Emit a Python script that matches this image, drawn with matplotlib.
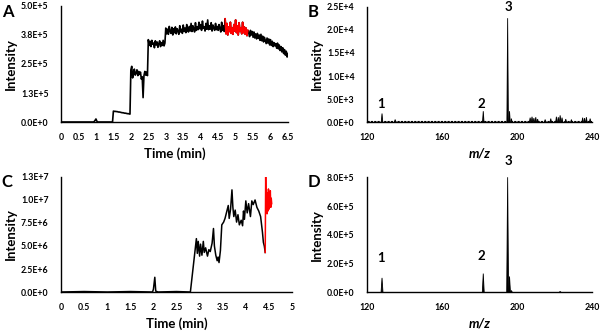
import numpy as np
import matplotlib
matplotlib.use("Agg")
import matplotlib.pyplot as plt

plt.rcParams['font.family'] = ['Lato', 'DejaVu Sans']
plt.rcParams['font.weight'] = 'bold'

# ---- panel A : intensity vs time (x1e4), one value every 0.025 min, rows of 0.25 min
a_int = [
    0, 0, 0, 0, 0, 0, 0, 0, 0, 0,
    0, 0, 0, 0, 0, 0, 0, 0, 0, 0,
    0, 0, 0, 0, 0, 0, 0, 0, 0, 0,
    0, 0, 0, 0, 0, 0, 0, 0, 0.2, 0.7,
    1.3, 0.4, 0, 0, 0, 0, 0, 0, 0, 0,
    0, 0, 0, 0, 0, 0, 0, 0, 0, 0,
    4.7, 4.6, 4.6, 4.5, 4.5, 4.4, 4.3, 4.3, 4.2, 4.1,
    4.0, 4.0, 3.9, 3.8, 3.8, 3.7, 3.6, 3.6, 3.5, 3.4,
    22.5, 24.0, 19.0, 21.5, 22.8, 20.2, 21.0, 22.5, 20.0, 21.8,
    20.5, 21.5, 18.5, 19.5, 10.5, 20.0, 21.8, 20.2, 21.5, 20.0,
    35.5, 33.0, 34.8, 32.5, 35.2, 33.5, 34.0, 32.0, 35.0, 33.2,
    34.5, 32.2, 33.8, 35.0, 32.5, 34.2, 33.0, 35.2, 32.8, 34.0,
    40.5, 38.0, 40.0, 37.8, 41.2, 39.0, 38.2, 40.8, 37.5, 40.2,
    38.5, 41.0, 38.0, 40.2, 39.2, 37.8, 41.5, 38.8, 40.0, 38.2,
    41.8, 39.0, 40.5, 38.5, 42.0, 39.5, 38.8, 41.2, 39.2, 42.5,
    39.0, 41.5, 40.0, 38.8, 42.8, 39.5, 41.0, 39.8, 43.0, 40.2,
    42.0, 39.5, 43.5, 40.5, 41.0, 39.2, 42.5, 40.0, 44.0, 39.8,
    41.5, 40.0, 42.8, 39.2, 41.8, 40.5, 39.5, 42.5, 39.8, 41.2,
    39.5, 42.0, 40.2, 38.8, 43.0, 39.5, 41.5, 39.0, 44.5, 38.0,
    42.5, 37.5, 41.0, 39.0, 43.0, 38.2, 40.5, 37.8, 42.0, 39.2,
    44.0, 38.5, 41.5, 37.5, 42.8, 39.0, 40.5, 38.0, 43.0, 38.5,
    41.0, 37.8, 40.5, 37.2, 39.5, 38.5, 36.8, 39.5, 37.5, 39.0,
    36.5, 38.8, 36.2, 38.0, 35.8, 38.2, 36.0, 37.5, 35.2, 37.8,
    35.0, 37.0, 34.5, 36.5, 35.2, 33.8, 36.2, 34.0, 35.8, 33.2,
    35.5, 33.0, 34.8, 32.5, 34.2, 32.8, 33.8, 31.8, 34.0, 31.5,
    33.2, 30.8, 32.5, 30.2, 32.0, 29.5, 31.2, 28.8, 30.5, 28.0,
    29.5]
a_time = np.round(np.arange(len(a_int)) * 0.025, 3)
a_red = (4.7, 5.35)

# ---- panel C : intensity vs time (x1e6)
c_time = [0, 0.5, 1.0, 1.5, 1.98, 2.0, 2.03, 2.05, 2.1, 2.5, 2.8,
          2.93, 2.95, 2.97, 3.0, 3.02, 3.05, 3.08, 3.1, 3.13, 3.17, 3.2, 3.23,
          3.27, 3.3, 3.32, 3.35, 3.38, 3.4, 3.42, 3.45, 3.48, 3.52, 3.55, 3.58,
          3.62, 3.64, 3.67, 3.7, 3.72, 3.74, 3.77, 3.8, 3.83, 3.86, 3.9, 3.93,
          3.95, 3.97, 4.0, 4.03, 4.06, 4.1, 4.13, 4.16, 4.2, 4.24, 4.28, 4.32,
          4.36, 4.38, 4.4, 4.42]
c_int = [0, 0.05, 0, 0.05, 0, 0.3, 1.6, 0.1, 0, 0.05, 0,
         5.8, 4.2, 5.5, 3.9, 5.2, 4.0, 5.5, 4.3, 4.8, 3.9, 4.6, 4.4,
         5.3, 6.9, 5.0, 4.0, 3.4, 3.8, 3.2, 4.5, 7.3, 7.6, 8.0, 8.6,
         9.4, 8.0, 9.0, 11.1, 9.2, 8.2, 8.9, 7.6, 8.4, 7.3, 7.8, 7.2,
         8.8, 7.9, 9.9, 8.6, 9.6, 8.2, 9.9, 9.5, 10.0, 9.2, 8.8, 8.2,
         6.5, 5.4, 5.0, 4.3]
c_red_time = [4.42, 4.43, 4.44, 4.45, 4.46, 4.47, 4.48, 4.49, 4.5, 4.51,
              4.52, 4.53, 4.54, 4.55, 4.56]
c_red_int = [4.3, 12.6, 8.8, 10.5, 8.5, 10.8, 8.8, 11.2, 9.0, 10.4,
             9.2, 11.0, 9.2, 10.2, 9.6]

# ---- panel B : mass spectrum (x1e3)
b_mz = [128, 135, 182, 195, 196, 197, 207, 208, 209, 210, 211, 215, 218,
        221, 222, 223, 224, 226, 229, 235, 236, 237, 239]
b_int = [1.9, 0.6, 2.4, 22.5, 2.4, 0.8, 1.0, 1.2, 0.9, 1.1, 0.7, 0.6, 0.8,
         1.2, 1.1, 1.5, 1.0, 0.7, 0.6, 1.0, 0.9, 1.1, 0.8]
b_floor = 0.35
b_labels = [('1', 127.3, 4.0), ('2', 181.2, 4.0), ('3', 195.2, 24.9)]

# ---- panel D : mass spectrum (x1e5)
d_mz = [128, 182, 195, 196, 197, 223]
d_int = [1.0, 1.3, 8.0, 1.1, 0.12, 0.04]
d_labels = [('1', 127.3, 1.95), ('2', 181.2, 2.1), ('3', 195.2, 8.7)]

TICK = 6.3
LAB = 9.5


def style(ax, xlim, ylim, yticks, ylabels, xticks, xlabels, xlab, italic=False):
    for s in ['top', 'right']:
        ax.spines[s].set_visible(False)
    for s in ['left', 'bottom']:
        ax.spines[s].set_linewidth(1.0)
    ax.set_xlim(*xlim)
    ax.set_ylim(*ylim)
    ax.set_yticks(yticks)
    ax.set_yticklabels(ylabels, fontsize=TICK, fontweight='bold')
    ax.set_xticks(xticks)
    ax.set_xticklabels(xlabels, fontsize=TICK, fontweight='bold')
    ax.tick_params(length=0, axis='y', pad=9)
    ax.tick_params(length=0, axis='x', pad=8)
    ax.set_ylabel('Intensity', fontsize=LAB, fontweight='bold', labelpad=3)
    ax.set_xlabel(xlab, fontsize=LAB, fontweight='bold',
                  fontstyle='italic' if italic else 'normal', labelpad=4)


def spectrum(ax, mz, inten, w):
    for m, h in zip(mz, inten):
        ax.fill([m - w, m, m + w], [0, h, 0], color='black', lw=0.6,
                edgecolor='black', clip_on=False)


fig = plt.figure(figsize=(6.0, 3.31), dpi=100)
axA = fig.add_axes([0.1017, 0.6314, 0.3783, 0.3505])
axB = fig.add_axes([0.6117, 0.6305, 0.375, 0.3495])
axC = fig.add_axes([0.1017, 0.1178, 0.385, 0.3475])
axD = fig.add_axes([0.6117, 0.1170, 0.375, 0.3475])

# A
a_t = np.array(a_time)
a_v = np.array(a_int) * 1e4
axA.plot(a_t, a_v, color='black', lw=1.2)
m = (a_t >= a_red[0] - 1e-9) & (a_t <= a_red[1] + 1e-9)
axA.plot(a_t[m], a_v[m], color='#ff0000', lw=1.2)
style(axA, (0, 6.5), (0, 5e5), np.arange(5) * 1.25e5,
      ['0.0E+0', '1.3E+5', '2.5E+5', '3.8E+5', '5.0E+5'],
      np.arange(14) * 0.5, ['0', '0.5', '1', '1.5', '2', '2.5', '3', '3.5',
                            '4', '4.5', '5', '5.5', '6', '6.5'], 'Time (min)')

# C
axC.plot(c_time, np.array(c_int) * 1e6, color='black', lw=1.1)
axC.plot(c_red_time, np.array(c_red_int) * 1e6, color='#ff0000', lw=1.1)
style(axC, (0, 5), (0, 1.25e7), np.arange(6) * 2.5e6,
      ['0.0E+0', '2.5E+6', '5.0E+6', '7.5E+6', '1.0E+7', '1.3E+7'],
      np.arange(11) * 0.5, ['0', '0.5', '1', '1.5', '2', '2.5', '3', '3.5',
                            '4', '4.5', '5'], 'Time (min)')

# B
axB.plot([120, 240], [b_floor * 1e3] * 2, color='black', lw=0.8,
         ls=(0, (2, 1)))
spectrum(axB, b_mz, np.array(b_int) * 1e3, 0.4)
style(axB, (120, 240), (0, 2.5e4), np.arange(6) * 5e3,
      ['0.0E+0', '5.0E+3', '1.0E+4', '1.5E+4', '2.0E+4', '2.5E+4'],
      [120, 160, 200, 240], ['120', '160', '200', '240'], 'm/z', italic=True)
for t, x, y in b_labels:
    axB.text(x, y * 1e3, t, ha='center', va='center', fontsize=LAB,
             fontweight='bold', clip_on=False)

# D
spectrum(axD, d_mz, np.array(d_int) * 1e5, 0.5)
style(axD, (120, 240), (0, 8e5), np.arange(5) * 2e5,
      ['0.0E+0', '2.0E+5', '4.0E+5', '6.0E+5', '8.0E+5'],
      [120, 160, 200, 240], ['120', '160', '200', '240'], 'm/z', italic=True)
for t, x, y in d_labels:
    axD.text(x, y * 1e5, t, ha='center', va='bottom', fontsize=LAB,
             fontweight='bold', clip_on=False)

# panel letters
for ch, x, y in [('A', 0.003, 0.963), ('B', 0.512, 0.963),
                 ('C', 0.003, 0.45), ('D', 0.512, 0.45)]:
    fig.text(x, y, ch, fontsize=12, fontweight='bold', ha='left', va='center')

fig.savefig('out.png', dpi=100)
